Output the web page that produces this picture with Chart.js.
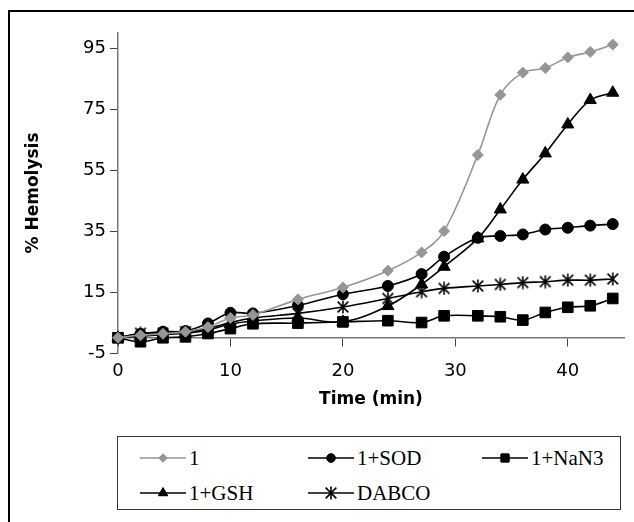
<!DOCTYPE html>
<html><head><meta charset="utf-8">
<script src="https://cdn.jsdelivr.net/npm/chart.js@4.4.1/dist/chart.umd.min.js"></script>
<style>
html,body{margin:0;padding:0;background:#fff;}
#wrap{position:relative;width:634px;height:522px;overflow:hidden;background:#fff;}
#frame{position:absolute;left:8px;top:10px;width:700px;height:600px;border-left:2px solid #000;border-top:2px solid #000;}
#c{position:absolute;left:0;top:0;}
#legend{position:absolute;left:117px;top:436px;width:502px;height:72px;border:1px solid #333;background:#fff;font-family:"Liberation Serif","Times New Roman",serif;font-size:21px;color:#000;}
.item{position:absolute;display:flex;align-items:center;height:22px;}
.item span{margin-left:3px;line-height:22px;white-space:nowrap;}
</style></head>
<body><div id="wrap"><div id="frame"></div><canvas id="c" width="634" height="522"></canvas><div id="legend"></div></div>
<script>
const times = [0, 2, 4, 6, 8, 10, 12, 16, 20, 24, 27, 29, 32, 34, 36, 38, 40, 42, 44];
const seriesNames = ['1', '1+SOD', '1+NaN3', '1+GSH', 'DABCO'];
const s1     = [0, 0.8, 1.3, 2.0, 3.5, 6.5, 7.5, 12.6, 16.5, 22.0, 28.0, 35.0, 60.0, 79.7, 87.0, 88.5, 92.0, 93.8, 96.2];
const sSOD   = [0, 1.3, 2.0, 2.2, 4.7, 8.2, 8.0, 10.6, 14.3, 17.0, 20.9, 26.6, 32.8, 33.4, 33.9, 35.5, 36.1, 36.8, 37.3];
const sNaN3  = [0, -1.3, 0.0, 0.3, 1.4, 3.0, 4.6, 4.8, 5.2, 5.6, 5.0, 7.2, 7.2, 6.9, 5.8, 8.3, 10.0, 10.5, 12.9];
const sGSH   = [0, 0.5, 1.0, 1.5, 2.5, 4.5, 5.5, 6.5, 5.2, 10.4, 17.5, 23.3, 32.6, 42.1, 51.9, 60.5, 70.0, 78.0, 80.4];
const sDABCO = [0, 1.5, 1.5, 2.0, 3.0, 5.0, 6.5, 8.0, 10.1, 12.9, 15.1, 16.2, 17.0, 17.5, 18.1, 18.4, 18.9, 18.9, 19.3];
const xTicks = [0, 10, 20, 30, 40];
const yTicks = [-5, 15, 35, 55, 75, 95];

function makeStar(size, color, lw) {
  const c = document.createElement('canvas');
  c.width = size; c.height = size;
  const g = c.getContext('2d');
  g.strokeStyle = color; g.lineWidth = lw; g.lineCap = 'butt';
  const m = size / 2, r = size / 2 - 0.5, d = r * 0.82;
  g.beginPath();
  g.moveTo(m, m - r); g.lineTo(m, m + r);
  g.moveTo(m - d, m - d); g.lineTo(m + d, m + d);
  g.moveTo(m - d, m + d); g.lineTo(m + d, m - d);
  g.stroke();
  return c;
}
const starImg = makeStar(14, '#000', 1.6);

const GRAY = '#969696';
function ds(label, vals, color, style, radius) {
  return {
    label, data: times.map((t, i) => ({x: t, y: vals[i]})),
    borderColor: color, backgroundColor: color, pointBackgroundColor: color, pointBorderColor: color,
    pointStyle: style, pointRadius: radius, pointHoverRadius: radius, pointBorderWidth: 1,
    borderWidth: 1.6, tension: 0.35, clip: false, xAxisID: 'x', yAxisID: 'y', fill: false
  };
}
const datasets = [
  ds(seriesNames[0], s1, GRAY, 'rectRot', 5.5),
  ds(seriesNames[1], sSOD, '#000', 'circle', 5.5),
  ds(seriesNames[2], sNaN3, '#000', 'rect', 7.5),
  ds(seriesNames[3], sGSH, '#000', 'triangle', 7),
  ds(seriesNames[4], sDABCO, '#000', starImg, 7)
];

const tickFont = {family: '"DejaVu Sans", sans-serif', size: 18};
const titleFont = {family: '"DejaVu Sans", sans-serif', size: 17, weight: 'bold'};
const setTicks = arr => s => { s.ticks = arr.map(v => ({value: v})); };

const chart = new Chart(document.getElementById('c'), {
  type: 'line',
  data: {datasets},
  options: {
    responsive: false, animation: false, devicePixelRatio: 1,
    layout: {padding: {top: 33, right: 10, left: 0, bottom: 109}},
    plugins: {legend: {display: false}, tooltip: {enabled: false}},
    scales: {
      x: {
        type: 'linear', position: {y: 0}, min: 0, max: 45,
        afterBuildTicks: setTicks(xTicks),
        grid: {drawOnChartArea: false, drawTicks: true, tickLength: 8, color: '#444', lineWidth: 1},
        border: {display: true, color: '#777', width: 1.5},
        ticks: {display: false}
      },
      x2: {
        type: 'linear', position: 'bottom', min: 0, max: 45,
        afterBuildTicks: setTicks(xTicks),
        grid: {display: false, drawTicks: false},
        border: {display: false},
        ticks: {padding: 8, font: tickFont, color: '#000', maxRotation: 0, autoSkip: false},
        title: {display: true, text: 'Time (min)', font: titleFont, color: '#000', padding: {top: 0, bottom: 3}},
        afterFit: s => { s.height = 60; }
      },
      y: {
        type: 'linear', position: 'left', min: -5, max: 100,
        afterBuildTicks: setTicks(yTicks),
        grid: {drawOnChartArea: false, drawTicks: true, tickLength: 8, color: '#444', lineWidth: 1},
        border: {display: true, color: '#777', width: 1.5},
        ticks: {padding: 4, font: tickFont, color: '#000', autoSkip: false},
        title: {display: true, text: '% Hemolysis', font: titleFont, color: '#000', padding: {top: 23, bottom: 0}},
        afterFit: s => { s.width = 118; }
      }
    }
  }
});

// HTML legend built from the chart's datasets
const legendPos = [[22, 21], [190, 21], [364, 21], [22, 56], [190, 56]];
const legendEl = document.getElementById('legend');
chart.data.datasets.forEach((d, i) => {
  const item = document.createElement('div');
  item.className = 'item';
  item.style.left = legendPos[i][0] + 'px';
  item.style.top = (legendPos[i][1] - 11) + 'px';
  const cv = document.createElement('canvas');
  cv.width = 46; cv.height = 22;
  const g = cv.getContext('2d');
  g.strokeStyle = d.borderColor; g.lineWidth = 1.6;
  g.beginPath(); g.moveTo(0, 11); g.lineTo(46, 11); g.stroke();
  g.fillStyle = d.pointBackgroundColor; g.strokeStyle = d.pointBorderColor; g.lineWidth = 1;
  const r = d.pointRadius * 0.75;
  if (Chart.helpers && Chart.helpers.drawPoint) {
    Chart.helpers.drawPoint(g, {pointStyle: d.pointStyle, radius: r, rotation: 0, borderWidth: 1}, 23, 11);
    if (typeof d.pointStyle === 'string') { g.fill(); g.stroke(); }
  } else if (d.pointStyle instanceof HTMLCanvasElement) {
    g.drawImage(d.pointStyle, 23 - d.pointStyle.width / 2, 11 - d.pointStyle.height / 2);
  } else {
    g.beginPath(); g.arc(23, 11, r, 0, Math.PI * 2); g.fill();
  }
  const sp = document.createElement('span');
  sp.textContent = d.label;
  item.appendChild(cv); item.appendChild(sp);
  legendEl.appendChild(item);
});
</script>
</body></html>
